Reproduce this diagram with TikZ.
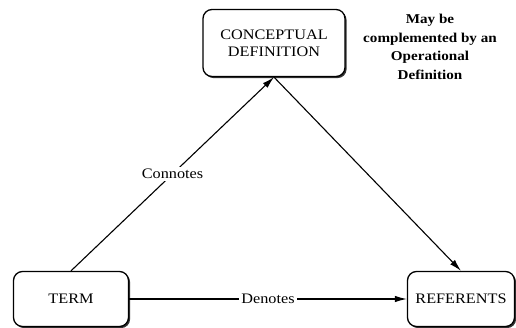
\documentclass[tikz,border=0pt]{standalone}
\usepackage{fontspec}
\setmainfont{Liberation Serif}[FakeStretch=1.12]
\usepackage{tikz}
\usetikzlibrary{arrows.meta,shadows,positioning}

\tikzset{
  box/.style={draw,line width=1.3pt,rounded corners=9pt,fill=white,align=center,
    font=\fontsize{14.5}{17}\selectfont,
    drop shadow={shadow xshift=1.6pt,shadow yshift=-1.6pt,fill=black!80,opacity=1}},
  link/.style={line width=1.1pt,-{Latex[length=12pt,width=6.5pt]}},
  lbl/.style={fill=white,inner sep=2pt,font=\fontsize{14.5}{17}\selectfont}
}

\begin{document}
\begin{tikzpicture}[x=1pt,y=-1pt]
\useasboundingbox (0,0) rectangle (516,328);

\node[box,minimum width=142pt,minimum height=67pt] (concept) at (274,43) {CONCEPTUAL\\DEFINITION};
\node[box,minimum width=115pt,minimum height=55pt] (term) at (71,299) {TERM};
\node[box,minimum width=107pt,minimum height=55pt] (ref) at (461,299) {REFERENTS};

% side remark
\node[align=center,font=\fontsize{13.5}{18.5}\selectfont\bfseries] (note) at (430,47)
  {May be\\complemented by an\\Operational\\Definition};

\draw[link] (term.north) -- node[lbl] {Connotes} (concept.south);
\draw[link] (concept.south) -- (ref.north);
\draw[link] (term.east) -- node[lbl] {Denotes} (ref.west);

\end{tikzpicture}
\end{document}
